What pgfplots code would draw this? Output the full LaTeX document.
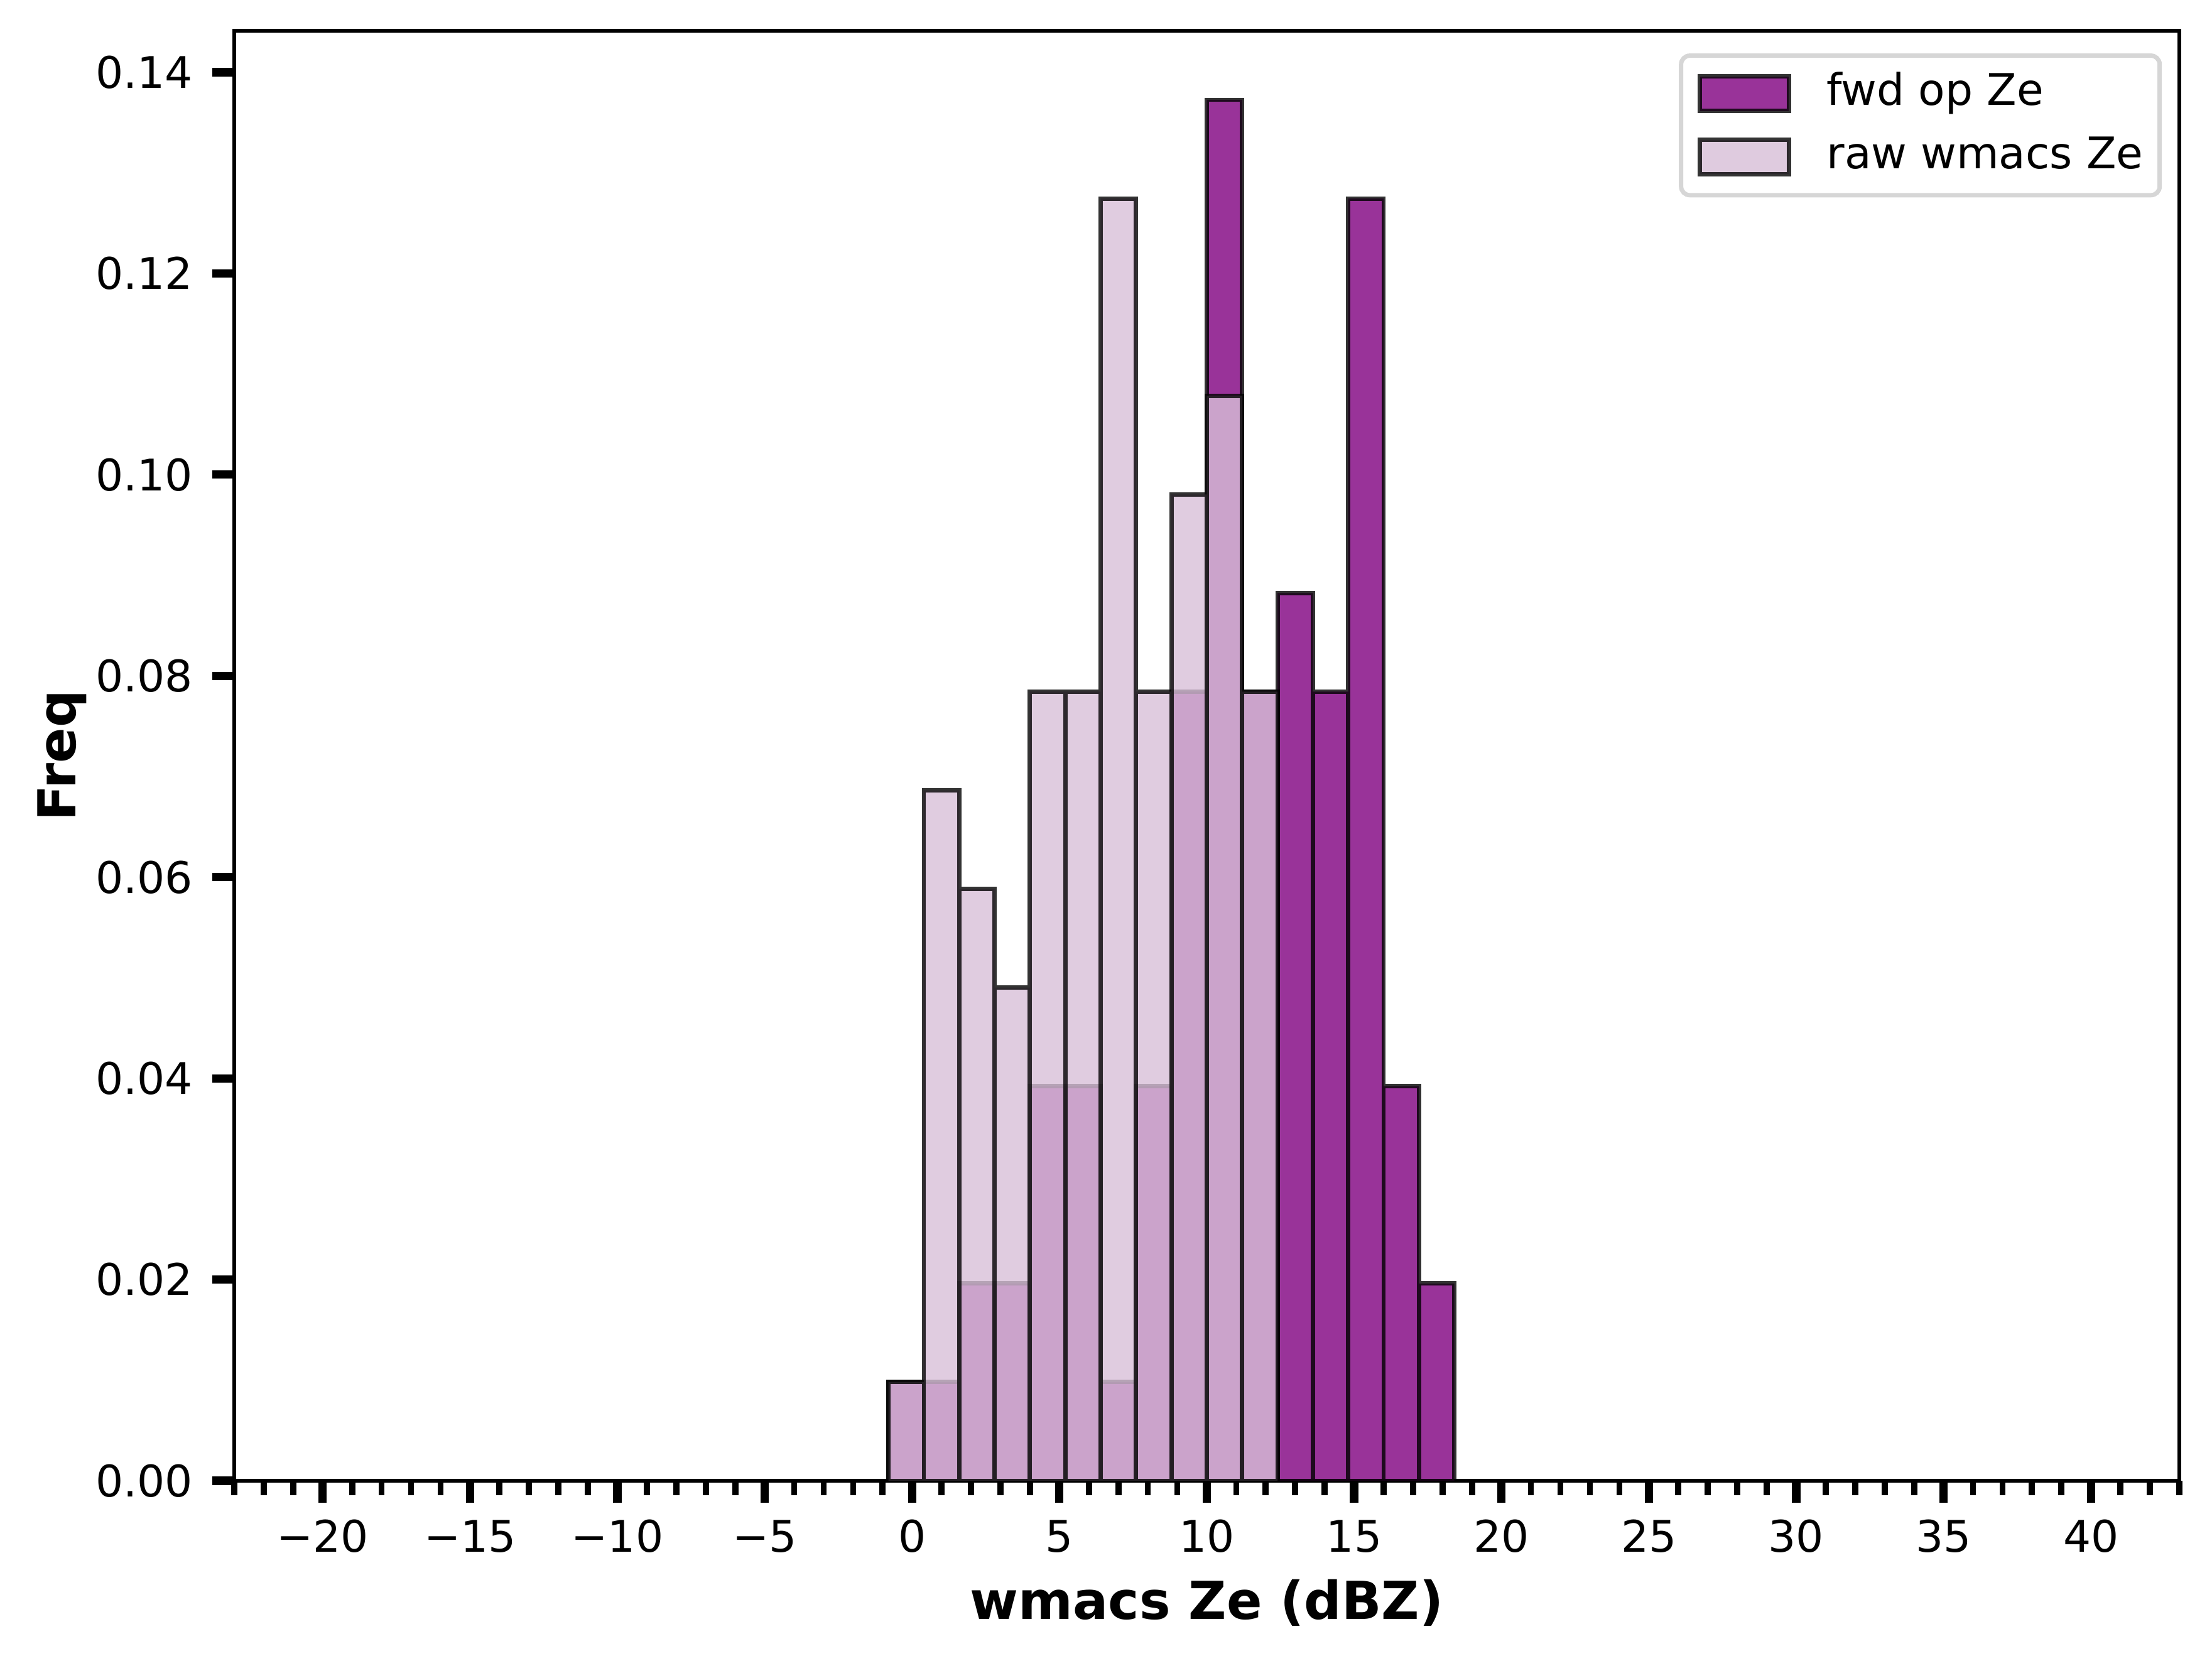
\documentclass[border=0pt]{standalone}
\usepackage{fontspec}
\setmainfont{DejaVu Sans}
\usepackage{pgfplots}
\pgfplotsset{compat=1.18}
\definecolor{mplpurple}{RGB}{128,0,128}
\definecolor{mplthistle}{RGB}{216,191,216}
\definecolor{legendgray}{RGB}{214,214,214}
\pgfplotsset{histlegend/.style={legend image code/.code={\draw[##1, sharp corners] (0pt,-3.95pt) rectangle (20.4pt,3.95pt);}}}
\begin{document}
\begin{tikzpicture}
\begin{axis}[
  at={(0,0)}, anchor=south west,
  scale only axis, width=445.97pt, height=332.5pt,
  xmin=-23, xmax=43, ymin=0, ymax=0.144118,
  axis line style={line width=0.8pt},
  tick align=outside, tick pos=left,
  xtick={-20,-15,-10,-5,0,5,10,15,20,25,30,35,40},
  xticklabels={−20,−15,−10,−5,0,5,10,15,20,25,30,35,40},
  minor xtick={-23,-22,...,43},
  ytick={0,0.02,0.04,0.06,0.08,0.1,0.12,0.14},
  yticklabels={0.00,0.02,0.04,0.06,0.08,0.10,0.12,0.14},
  major tick length=5pt, minor tick length=3.3pt,
  major tick style={line width=1.9pt, black},
  minor tick style={line width=1.4pt, black},
  xticklabel style={anchor=base, inner sep=0pt, yshift=-11.4pt, font=\fontsize{10}{12}\selectfont},
  yticklabel style={anchor=east, inner sep=0pt, xshift=-4.3pt, font=\fontsize{10}{12}\selectfont},
  xlabel={wmacs Ze (dBZ)}, ylabel={Freq},
  x label style={at={(axis description cs:0.5,-0.09534)}, anchor=base, inner sep=0pt, font=\bfseries\fontsize{12}{14}\selectfont},
  y label style={at={(axis description cs:-0.08137,0.5)}, anchor=base, inner sep=0pt, font=\bfseries\fontsize{12}{14}\selectfont},
  legend cell align=left,
  legend style={at={(1,1)}, anchor=north east, xshift=-4pt, yshift=-5.2pt,
    draw=legendgray, line width=1pt, rounded corners=2pt,
    inner xsep=3.8pt, inner ysep=1.5pt, column sep=8.2pt, row sep=0pt,
    font=\fontsize{10}{12}\selectfont,
    nodes={inner xsep=0pt, inner ysep=2.35pt, text height=7.5pt, text depth=2.3pt}},
]
\addplot[ybar interval, fill=mplpurple, fill opacity=0.8, draw=black, draw opacity=0.8, line width=1pt, histlegend]
  coordinates {(-0.8,0.009804) (0.4,0.009804) (1.6,0.019608) (2.8,0.019608) (4.0,0.039216) (5.2,0.039216) (6.4,0.009804) (7.6,0.039216) (8.8,0.078431) (10.0,0.137255) (11.2,0.078431) (12.4,0.088235) (13.6,0.078431) (14.8,0.127451) (16.0,0.039216) (17.2,0.019608) (18.4,0)};
\addlegendentry{fwd op Ze}
\addplot[ybar interval, fill=mplthistle, fill opacity=0.8, draw=black, draw opacity=0.8, line width=1pt, histlegend]
  coordinates {(-0.8,0.009804) (0.4,0.068627) (1.6,0.058824) (2.8,0.049020) (4.0,0.078431) (5.2,0.078431) (6.4,0.127451) (7.6,0.078431) (8.8,0.098039) (10.0,0.107843) (11.2,0.078431) (12.4,0)};
\addlegendentry{raw wmacs Ze}
\end{axis}
\pgfresetboundingbox
\path (-53.71pt,-41.18pt) rectangle (453.46pt,339.56pt);
\end{tikzpicture}
\end{document}
